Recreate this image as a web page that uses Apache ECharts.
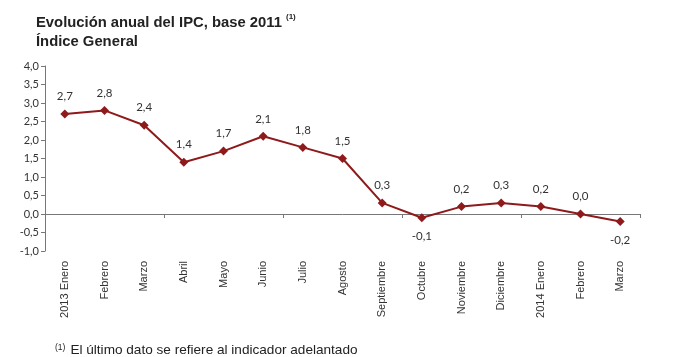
<!DOCTYPE html>
<html><head><meta charset="utf-8">
<script src="https://cdn.jsdelivr.net/npm/echarts@6/dist/echarts.min.js"></script>
<style>html,body{margin:0;padding:0;background:#fff}#c{width:680px;height:357px}</style>
</head><body><div id="c"></div>
<script>
const categories = ['2013 Enero','Febrero','Marzo','Abril','Mayo','Junio','Julio','Agosto','Septiembre','Octubre','Noviembre','Diciembre','2014 Enero','Febrero','Marzo'];
const values = [2.7, 2.8, 2.4, 1.4, 1.7, 2.1, 1.8, 1.5, 0.3, -0.1, 0.2, 0.3, 0.2, 0.0, -0.2];
const below = [false,false,false,false,false,false,false,false,false,true,false,false,false,false,true];
const fmt = v => v.toFixed(1).replace('.', ',');
const chart = echarts.init(document.getElementById('c'));
const red = '#8e1a1c';
chart.setOption({
  animation: false,
  textStyle: {fontFamily: 'Liberation Sans'},
  title: [
    {left: 31, top: 8, text: '{b|Evolución anual del IPC, base 2011 }{s|(1)}\n{b|Índice General}',
     textStyle: {rich: {
       b: {fontSize: 14.8, fontWeight: 'bold', color: '#222', fontFamily: 'Liberation Sans', lineHeight: 19},
       s: {fontSize: 8, fontWeight: 'bold', color: '#222', fontFamily: 'Liberation Sans', verticalAlign: 'top', padding: [0,0,6,0]}
     }}},
    {left: 50, top: 336, text: '{s|(1)} {t|El último dato se refiere al indicador adelantado}',
     textStyle: {fontWeight: 'normal', rich: {
       s: {fontSize: 8.5, fontWeight: 'normal', color: '#222', fontFamily: 'Liberation Sans', padding: [0,0,5,0]},
       t: {fontSize: 13.6, fontWeight: 'normal', color: '#222', fontFamily: 'Liberation Sans'}
     }}}
  ],
  grid: {left: 45, right: 40, top: 66, bottom: 106},
  xAxis: [
    {type: 'category', data: categories, position: 'bottom',
     axisLine: {show: false, onZero: false}, axisTick: {show: false},
     axisLabel: {rotate: 90, fontSize: 11, color: '#333', margin: 10, interval: 0, fontFamily: 'Liberation Sans'}},
    {type: 'category', data: categories, position: 'bottom',
     axisLine: {show: true, onZero: true, lineStyle: {color: '#777', width: 1}},
     axisTick: {show: true, length: 4, inside: false, lineStyle: {color: '#777'}},
     axisLabel: {show: false}}
  ],
  yAxis: {type: 'value', min: -1, max: 4, interval: 0.5,
    axisLine: {show: true, lineStyle: {color: '#777'}},
    axisTick: {show: true, length: 4, lineStyle: {color: '#777'}},
    splitLine: {show: false},
    axisLabel: {formatter: v => fmt(v), fontSize: 11, color: '#333', margin: 6, fontFamily: 'Lato'}},
  series: [{
    type: 'line', xAxisIndex: 0, symbol: 'diamond', symbolSize: 9,
    data: values.map((v, i) => ({value: v, label: {position: below[i] ? 'bottom' : 'top', distance: below[i] ? 8 : 7}})),
    lineStyle: {color: red, width: 2}, itemStyle: {color: red},
    label: {show: true, formatter: p => fmt(p.value), fontSize: 11.5, color: '#333', fontFamily: 'Lato'}
  }]
});
</script></body></html>
